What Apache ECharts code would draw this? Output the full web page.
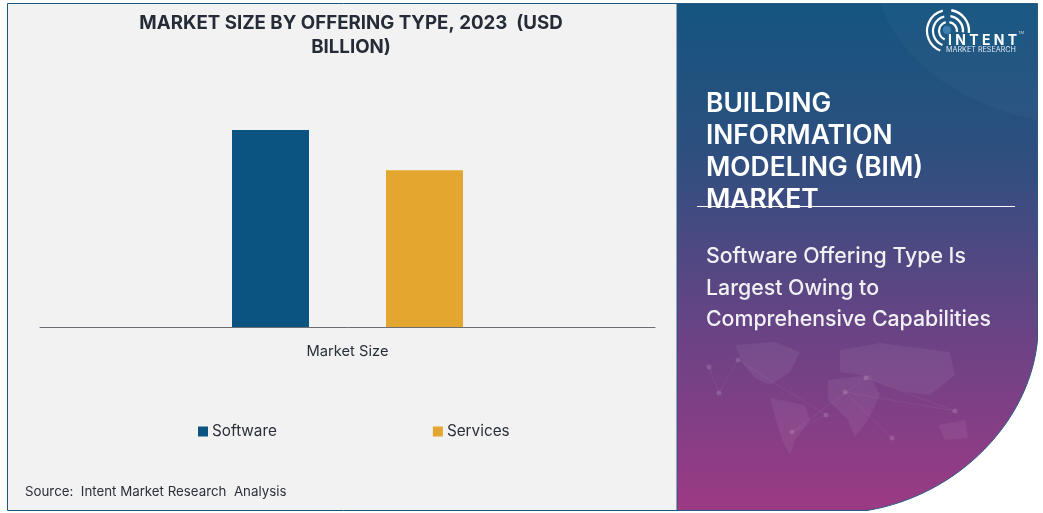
<!DOCTYPE html>
<html><head><meta charset="utf-8">
<style>html,body{margin:0;padding:0;background:#fff}#c{width:1043px;height:513px}</style>
<script src="https://cdn.jsdelivr.net/npm/echarts@6/dist/echarts.min.js"></script>
</head><body><div id="c"></div>
<script>
const categories = ['Market Size'];
const software = [5.0];
const services = [3.98];
const seriesNames = ['Software', 'Services'];
const colors = ['#0B5380', '#E3A72F'];
const titleText = 'MARKET SIZE BY OFFERING TYPE, 2023  (USD\nBILLION)';
const sourceText = 'Source:  Intent Market Research  Analysis';
const headingLines = ['BUILDING', 'INFORMATION', 'MODELING (BIM)', 'MARKET'];
const subLines = ['Software Offering Type Is', 'Largest Owing to', 'Comprehensive Capabilities'];

const FONT = 'Inter, "Open Sans", sans-serif';
function pathEl(name, d, z, style){
  echarts.graphic.registerShape(name, echarts.graphic.extendPath(d, {}));
  return {type:name, z:z, silent:true, style:style};
}
const land = [
 'M735,345 L775,342 L800,352 L790,372 L770,385 L755,378 L742,362 Z',
 'M770,398 L805,405 L810,420 L795,440 L790,455 L782,440 L776,420 Z',
 'M828,380 L870,375 L880,395 L868,420 L855,437 L848,420 L828,400 Z',
 'M840,350 L880,343 L950,352 L955,375 L930,395 L905,392 L885,385 L860,375 L840,372 Z',
 'M938,425 L965,420 L968,438 L945,440 Z'
];
const nodes = [[709,367],[719,393],[738,360],[826,415],[792,432],[866,378],[955,411],[845,392],[892,438]];
const graphics = [
 {type:'rect',z:0,silent:true,shape:{x:7.5,y:3.5,width:672,height:507},style:{fill:'#F2F2F2',stroke:'#1C5878',lineWidth:1}},
 pathEl('panelShape','M677,3.5 L1037.5,3.5 L1037.5,340 C1030,420 960,495 867,510.5 L677,510.5 Z',1,
  {stroke:'#2B5A80',lineWidth:1,fill:{type:'linear',x:0,y:0,x2:0,y2:1,colorStops:[
    {offset:0,color:'#14557F'},{offset:0.3,color:'#2E4F7F'},{offset:0.65,color:'#6A4385'},{offset:1,color:'#9C3A84'}]}}),
 pathEl('panelGlow','M880,4 C900,60 960,105 1037,120 L1037,4 Z',2,{fill:'rgba(255,255,255,0.025)'})
];
land.forEach((d,i)=>{
  graphics.push(pathEl('landShape'+i,d,2,{fill:'rgba(255,255,255,0.06)'}));
});
nodes.forEach((n,i)=>{
  graphics.push({type:'circle',z:2,silent:true,shape:{cx:n[0],cy:n[1],r:2.5},style:{fill:'rgba(255,255,255,0.14)'}});
  if(i){graphics.push({type:'line',z:2,silent:true,shape:{x1:n[0],y1:n[1],x2:nodes[i-1][0],y2:nodes[i-1][1]},style:{stroke:'rgba(255,255,255,0.05)',lineWidth:1}});}
});
// logo
[9,15,21].forEach(r=>{
  graphics.push({type:'arc',z:3,silent:true,shape:{cx:948,cy:31,r:r,startAngle:-Math.PI*0.45,endAngle:Math.PI*0.03,clockwise:true},style:{stroke:'#fff',lineWidth:2.4,fill:null}});
  graphics.push({type:'arc',z:3,silent:true,shape:{cx:948,cy:31,r:r,startAngle:Math.PI*0.62,endAngle:Math.PI*1.42,clockwise:true},style:{stroke:'#fff',lineWidth:2.2,fill:null}});
});
graphics.push({type:'circle',z:3,silent:true,shape:{cx:947,cy:30,r:4},style:{fill:'#3F7FB0'}});
graphics.push({type:'rect',z:3,silent:true,shape:{x:946,y:35,width:76,height:10},style:{fill:'#1B5A85'}});
graphics.push({type:'text',z:4,silent:true,style:{text:'I N T E N T',x:948,y:34,fill:'#fff',font:'700 14px '+FONT}});
graphics.push({type:'text',z:4,silent:true,style:{text:'MARKET RESEARCH',x:946,y:46,fill:'#DDE6F0',font:'400 7.2px '+FONT}});
graphics.push({type:'text',z:4,silent:true,style:{text:'TM',x:1018,y:31,fill:'#C8D6E4',font:'400 4px '+FONT}});
// panel text
headingLines.forEach((t,i)=>{
  graphics.push({type:'text',z:5,silent:true,style:{text:t,x:706,y:104+i*32,verticalAlign:'middle',fill:'#fff',font:'600 26.4px '+FONT}});
});
subLines.forEach((t,i)=>{
  graphics.push({type:'text',z:5,silent:true,style:{text:t,x:706,y:257+i*31.5,verticalAlign:'middle',fill:'#F1F1F4',font:'500 21.3px '+FONT}});
});
graphics.push({type:'line',z:6,silent:true,shape:{x1:697,y1:206.5,x2:1015,y2:206.5},style:{stroke:'#fff',lineWidth:1}});
graphics.push({type:'text',z:5,silent:true,style:{text:sourceText,x:25,y:492,verticalAlign:'middle',fill:'#2A2F3A',font:'400 13.3px '+FONT}});

const chart = echarts.init(document.getElementById('c'), null, {renderer:'canvas'});
chart.setOption({
  animation:false,
  backgroundColor:'#fff',
  graphic:{elements:graphics},
  title:{text:titleText,left:346,top:6,textAlign:'center',
    textStyle:{fontFamily:FONT,fontSize:18.7,fontWeight:700,color:'#262B38',lineHeight:24}},
  grid:{left:40,top:130,width:615,height:197},
  xAxis:{type:'category',data:categories,
    axisLine:{lineStyle:{color:'#6A6E74',width:1}},axisTick:{show:false},
    axisLabel:{color:'#2A2F3A',fontFamily:FONT,fontSize:14.7,margin:17}},
  yAxis:{type:'value',min:0,max:5,show:false,splitLine:{show:false}},
  legend:{left:193,top:419,itemWidth:10,itemHeight:10,itemGap:156,icon:'rect',
    data:seriesNames,textStyle:{color:'#2A2F3A',fontFamily:FONT,fontSize:15.3,padding:[0,0,0,-1]}},
  series:[
    {name:seriesNames[0],type:'bar',data:software,barWidth:77,barGap:'100%',itemStyle:{color:colors[0]},z:3},
    {name:seriesNames[1],type:'bar',data:services,barWidth:77,itemStyle:{color:colors[1]},z:3}
  ]
});
</script></body></html>
